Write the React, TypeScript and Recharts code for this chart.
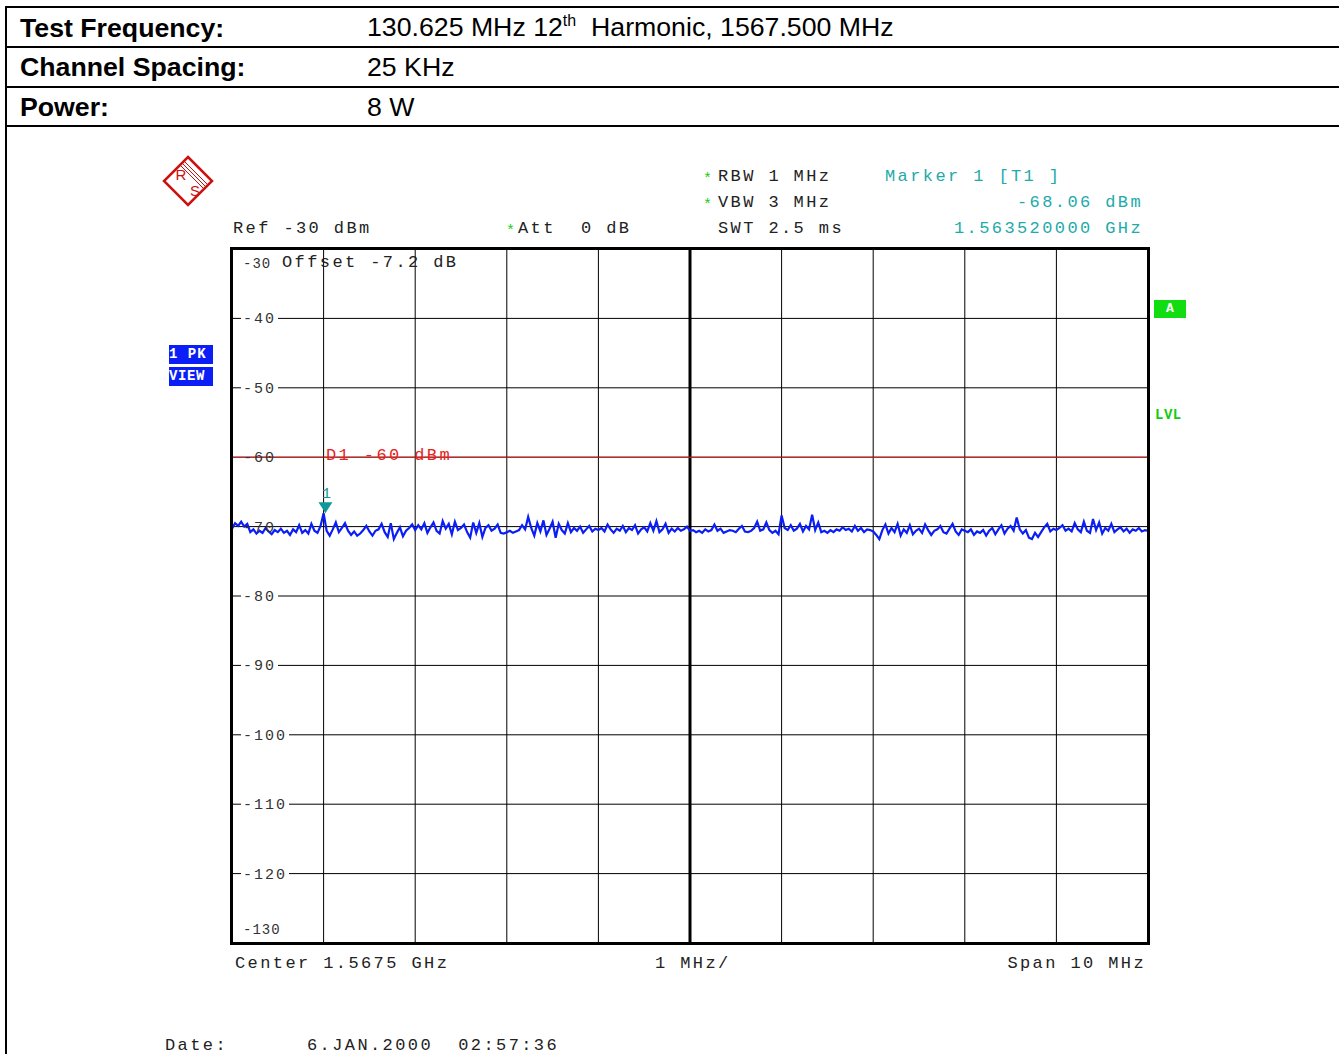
import React from "react";
import {
  CartesianGrid,
  Line,
  LineChart,
  ReferenceDot,
  ReferenceLine,
  XAxis,
  YAxis,
} from "recharts";

// trace levels (dBm), 30 sweep points per 1 MHz division
const div1 = [-70.3, -69.5, -69.9, -69.3, -70.0, -69.6, -70.8, -70.4, -71.0, -70.6, -70.9, -70.2, -70.7, -71.1, -70.5, -70.8, -70.3, -70.9, -70.6, -71.2, -70.4, -70.8, -69.8, -70.9, -70.5, -71.0, -69.6, -70.6, -70.9, -69.9];
const div2 = [-68.06, -70.6, -71.3, -70.4, -69.4, -70.8, -70.2, -69.5, -70.6, -71.2, -70.7, -71.3, -71.0, -70.5, -69.9, -70.7, -71.3, -70.6, -70.4, -69.6, -70.8, -71.5, -69.5, -71.8, -70.9, -70.1, -71.4, -70.6, -70.2, -69.7];
const div3 = [-70.5, -69.8, -70.4, -69.5, -70.9, -70.1, -69.4, -70.6, -71.0, -69.2, -70.3, -69.6, -71.1, -69.3, -70.5, -70.2, -69.7, -70.8, -71.6, -69.4, -70.9, -69.5, -71.5, -70.2, -69.8, -70.6, -70.3, -69.7, -70.9, -71.0];
const div4 = [-70.8, -70.6, -70.9, -70.7, -70.5, -69.8, -70.4, -68.6, -70.2, -71.3, -69.5, -70.7, -69.1, -71.2, -70.3, -69.3, -71.6, -69.6, -70.5, -71.0, -69.5, -70.8, -70.2, -70.6, -70.0, -70.9, -70.4, -69.9, -70.7, -70.3];
const div5 = [-70.5, -70.2, -70.7, -69.7, -70.4, -70.9, -70.3, -70.6, -69.9, -70.8, -70.2, -70.5, -69.8, -71.0, -70.4, -70.1, -70.7, -69.5, -70.6, -69.2, -70.8, -70.4, -69.6, -70.9, -70.3, -70.7, -70.2, -70.6, -70.4, -70.0];
const div6 = [-70.6, -70.5, -70.8, -70.6, -70.9, -70.4, -70.7, -70.5, -69.7, -70.6, -70.3, -70.9, -70.7, -70.5, -70.6, -70.8, -70.3, -69.9, -70.7, -70.8, -70.6, -70.2, -69.3, -70.6, -70.4, -69.4, -70.5, -70.9, -70.6, -71.1];
const div7 = [-68.4, -70.2, -70.5, -69.8, -70.6, -70.3, -69.6, -70.7, -69.9, -70.4, -68.3, -70.5, -69.4, -70.8, -70.6, -70.9, -70.5, -70.8, -70.4, -70.6, -70.1, -70.5, -70.3, -70.7, -69.9, -70.6, -70.2, -70.8, -70.4, -70.5];
const div8 = [-70.7, -71.2, -71.8, -70.5, -69.7, -71.0, -70.2, -70.8, -69.6, -71.3, -70.4, -70.9, -69.8, -71.1, -70.6, -70.3, -70.9, -69.7, -70.5, -71.2, -70.6, -70.4, -69.9, -70.8, -71.0, -70.3, -69.6, -70.7, -71.2, -70.4];
const div9 = [-70.6, -70.8, -70.4, -71.2, -70.7, -70.9, -70.5, -71.3, -70.6, -70.2, -71.1, -70.4, -69.8, -71.0, -70.3, -69.9, -70.6, -68.7, -70.4, -71.0, -70.5, -71.6, -71.8, -70.9, -71.5, -70.8, -70.1, -69.6, -70.7, -70.3];
const div10 = [-70.5, -70.2, -69.8, -70.6, -70.3, -70.7, -69.5, -70.4, -70.8, -69.3, -70.6, -70.9, -68.9, -70.5, -69.4, -71.0, -70.2, -70.6, -69.6, -70.8, -70.4, -70.1, -70.7, -70.3, -70.9, -70.4, -70.6, -70.2, -70.7, -70.5, -70.6];

const levels = [...div1, ...div2, ...div3, ...div4, ...div5, ...div6, ...div7, ...div8, ...div9, ...div10];

const PTS_PER_DIV = 30;
const spanStart = -5; // MHz offset from centre
const spanEnd = 5;
const xTicks = [-5, -4, -3, -2, -1, 0, 1, 2, 3, 4, 5];
const yTicks = [-30, -40, -50, -60, -70, -80, -90, -100, -110, -120, -130];
const displayLine = -60;
const marker = { x: -3.98, y: -68.06 };

const data = levels.map((v, i) => ({ f: spanStart + i / PTS_PER_DIV, level: v }));

const PLOT_L = 232;
const PLOT_R = 1148;
const PLOT_T = 249;
const PLOT_B = 943;
const Y_W = 40;

const mono = "'Liberation Mono', 'DejaVu Sans Mono', monospace";
const sans = "'Liberation Sans', Arial, sans-serif";

const T = ({ x, y, c = "#222", size = 17, right = false, children, style = {} }: any) => (
  <div
    style={{
      position: "absolute",
      top: y - size / 2,
      ...(right ? { right: 1339 - x } : { left: x }),
      fontFamily: mono,
      fontSize: size,
      lineHeight: `${size}px`,
      letterSpacing: 2.4,
      color: c,
      whiteSpace: "pre",
      ...style,
    }}
  >
    {children}
  </div>
);

const YTick = ({ y, payload }: any) => {
  const v = payload.value;
  const label = String(v);
  const edge = v === -30 || v === -130;
  // the display line and the trace sit over these two labels
  const covered = v === -60 || v === -70;
  let ty = y;
  if (v === -30) ty = y + 14;
  if (v === -130) ty = y - 14;
  const w = label.length * 11 + 4;
  return (
    <g>
      {!edge && !covered && <rect x={PLOT_L + 9} y={y - 7} width={w} height={14} fill="#fff" />}
      <text
        x={PLOT_L + 11}
        y={ty}
        dy={5}
        fontFamily={mono}
        fontSize={edge ? 14 : 15}
        letterSpacing={edge ? 1 : 2}
        fill="#333"
      >
        {label}
      </text>
    </g>
  );
};

const MarkerShape = ({ cx, cy }: any) => (
  <g>
    <polygon points={`${cx - 7},${cy - 11} ${cx + 7},${cy - 11} ${cx},${cy}`} fill="#119999" />
    <text x={cx + 1} y={cy - 15} textAnchor="middle" fontFamily={mono} fontSize={15} fill="#119999">
      1
    </text>
  </g>
);

const Logo = () => (
  <svg width={52} height={52} style={{ position: "absolute", left: 162, top: 155 }} viewBox="0 0 52 52">
    <polygon points="26,2 50,26 26,50 2,26" fill="none" stroke="#cc1111" strokeWidth={2.5} />
    <line x1={21} y1={9} x2={43} y2={31} stroke="#cc1111" strokeWidth={1} />
    <line x1={23} y1={7} x2={45} y2={29} stroke="#cc1111" strokeWidth={1} />
    <line x1={19} y1={11} x2={41} y2={33} stroke="#cc1111" strokeWidth={1} />
    <text x={19} y={25} fontFamily={sans} fontSize={15} fill="#cc1111" textAnchor="middle">R</text>
    <text x={33} y={41} fontFamily={sans} fontSize={15} fill="#cc1111" textAnchor="middle">S</text>
  </svg>
);

export default function App() {
  return (
    <div style={{ position: "absolute", left: 0, top: 0, width: 1339, height: 1054, background: "#fff", overflow: "hidden" }}>
      {/* header table */}
      <div style={{ position: "absolute", left: 5, top: 6, width: 1340, height: 2, background: "#000" }} />
      <div style={{ position: "absolute", left: 5, top: 46, width: 1340, height: 2, background: "#000" }} />
      <div style={{ position: "absolute", left: 5, top: 86, width: 1340, height: 2, background: "#000" }} />
      <div style={{ position: "absolute", left: 5, top: 125, width: 1340, height: 2, background: "#000" }} />
      <div style={{ position: "absolute", left: 5, top: 6, width: 2, height: 1060, background: "#000" }} />
      {[
        ["Test Frequency:", 28],
        ["Channel Spacing:", 67],
        ["Power:", 107],
      ].map(([t, y]: any) => (
        <div key={t} style={{ position: "absolute", left: 20, top: y - 15, fontFamily: sans, fontWeight: 700, fontSize: 26.7, lineHeight: "30px" }}>
          {t}
        </div>
      ))}
      <div style={{ position: "absolute", left: 367, top: 12, fontFamily: sans, fontSize: 26.7, lineHeight: "30px", whiteSpace: "pre" }}>
        130.625 MHz 12<sup style={{ fontSize: 16, verticalAlign: 10, lineHeight: 0 }}>th</sup>{"  "}Harmonic, 1567.500 MHz
      </div>
      <div style={{ position: "absolute", left: 367, top: 52, fontFamily: sans, fontSize: 26.7, lineHeight: "30px" }}>25 KHz</div>
      <div style={{ position: "absolute", left: 367, top: 92, fontFamily: sans, fontSize: 26.7, lineHeight: "30px" }}>8 W</div>

      <Logo />

      <LineChart
        width={1339}
        height={1054}
        data={data}
        margin={{ left: PLOT_L - Y_W, right: 1339 - PLOT_R, top: PLOT_T, bottom: 1054 - PLOT_B }}
        style={{ position: "absolute", left: 0, top: 0 }}
      >
        <CartesianGrid stroke="#000" strokeWidth={1} />
        <XAxis dataKey="f" type="number" domain={[spanStart, spanEnd]} ticks={xTicks} hide />
        <YAxis
          type="number"
          domain={[-130, -30]}
          ticks={yTicks}
          width={Y_W}
          axisLine={false}
          tickLine={false}
          tick={<YTick />}
          interval={0}
        />
        <ReferenceLine x={0} stroke="#000" strokeWidth={3} />
        <Line
          dataKey="level"
          type="linear"
          stroke="#0a1ef5"
          strokeWidth={2.2}
          dot={false}
          isAnimationActive={false}
          zIndex={600}
        />
        <ReferenceLine y={displayLine} stroke="#e8231e" strokeWidth={1} zIndex={700} />
        <ReferenceDot x={marker.x} y={marker.y} r={0} shape={<MarkerShape />} zIndex={700} />
      </LineChart>

      {/* plot frame */}
      <div style={{ position: "absolute", boxSizing: "border-box", left: PLOT_L - 2, top: PLOT_T - 2, width: PLOT_R - PLOT_L + 4, height: PLOT_B - PLOT_T + 4, border: "3px solid #000", pointerEvents: "none" }} />

      {/* instrument annotations */}
      <T x={233} y={228}>Ref -30 dBm</T>
      <T x={506} y={231} c="#11cc11" size={15}>*</T>
      <T x={518} y={228}>Att  0 dB</T>
      <T x={703} y={179} c="#11cc11" size={15}>*</T>
      <T x={718} y={176}>RBW 1 MHz</T>
      <T x={703} y={205} c="#11cc11" size={15}>*</T>
      <T x={718} y={202}>VBW 3 MHz</T>
      <T x={718} y={228}>SWT 2.5 ms</T>
      <T x={885} y={176} c="#22aaaa">Marker 1 [T1 ]</T>
      <T x={1143} y={202} c="#22aaaa" right>-68.06 dBm</T>
      <T x={1143} y={228} c="#22aaaa" right>1.563520000 GHz</T>
      <T x={282} y={262}>Offset -7.2 dB</T>
      <T x={326} y={455} c="#e8231e">D1 -60 dBm</T>

      <div style={{ position: "absolute", left: 169, top: 345, width: 44, height: 19, background: "#0a1ef5", color: "#fff", fontFamily: mono, fontWeight: 700, fontSize: 14, lineHeight: "19px", whiteSpace: "pre", letterSpacing: 1, overflow: "hidden" }}>1 PK</div>
      <div style={{ position: "absolute", left: 169, top: 367, width: 44, height: 19, background: "#0a1ef5", color: "#fff", fontFamily: mono, fontWeight: 700, fontSize: 14, lineHeight: "19px", letterSpacing: 0.6, overflow: "hidden" }}>VIEW</div>
      <div style={{ position: "absolute", left: 1154, top: 300, width: 32, height: 18, background: "#11dd11", color: "#fff", fontFamily: mono, fontWeight: 700, fontSize: 13, lineHeight: "18px", textAlign: "center" }}>A</div>
      <div style={{ position: "absolute", left: 1155, top: 407, color: "#11cc11", fontFamily: mono, fontWeight: 700, fontSize: 14, lineHeight: "16px", letterSpacing: 0.5 }}>LVL</div>

      <T x={235} y={963}>Center 1.5675 GHz</T>
      <T x={655} y={963}>1 MHz/</T>
      <T x={1146} y={963} right>Span 10 MHz</T>
      <T x={165} y={1045}>Date:</T>
      <T x={307} y={1045}>6.JAN.2000  02:57:36</T>
    </div>
  );
}
